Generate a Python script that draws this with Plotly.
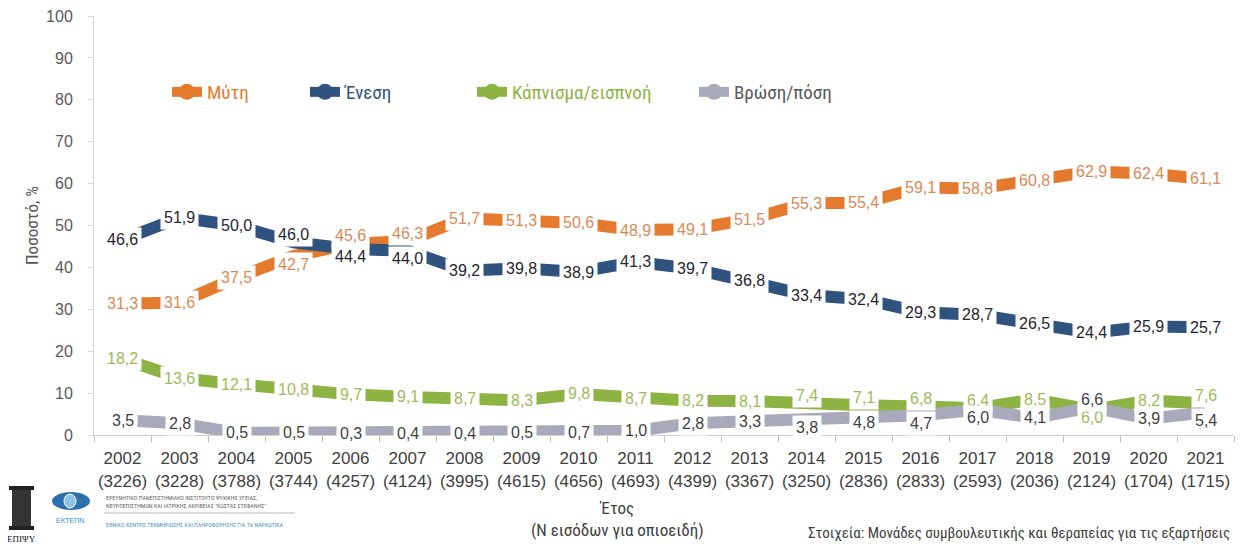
import plotly.graph_objects as go

years = [str(y) for y in range(2002, 2022)]
n_entries = [3226, 3228, 3788, 3744, 4257, 4124, 3995, 4615, 4656, 4693,
             4399, 3367, 3250, 2836, 2833, 2593, 2036, 2124, 1704, 1715]

myti = [31.3, 31.6, 37.5, 42.7, 45.6, 46.3, 51.7, 51.3, 50.6, 48.9,
        49.1, 51.5, 55.3, 55.4, 59.1, 58.8, 60.8, 62.9, 62.4, 61.1]
enesi = [46.6, 51.9, 50.0, 46.0, 44.4, 44.0, 39.2, 39.8, 38.9, 41.3,
         39.7, 36.8, 33.4, 32.4, 29.3, 28.7, 26.5, 24.4, 25.9, 25.7]
kapnisma = [18.2, 13.6, 12.1, 10.8, 9.7, 9.1, 8.7, 8.3, 9.8, 8.7,
            8.2, 8.1, 7.4, 7.1, 6.8, 6.4, 8.5, 6.0, 8.2, 7.6]
vrosi = [3.5, 2.8, 0.5, 0.5, 0.3, 0.4, 0.4, 0.5, 0.7, 1.0,
         2.8, 3.3, 3.8, 4.8, 4.7, 6.0, 4.1, 6.6, 3.9, 5.4]

series_names = ["Μύτη", "Ένεση", "Κάπνισμα/εισπνοή", "Βρώση/πόση"]
series_values = [myti, enesi, kapnisma, vrosi]
line_colors = ["#E47A2E", "#2F527E", "#8DB443", "#A8A9BA"]
label_colors = ["#D98A55", "#1F2630", "#9BBB59", "#3F3F3F"]
legend_text_colors = ["#E47A2E", "#2F527E", "#8DB443", "#595959"]

tick_text = [f"{y}<br>({n})" for y, n in zip(years, n_entries)]

NARROW = "Liberation Sans Narrow, Arial Narrow, Roboto Condensed, sans-serif"
REG = "Liberation Sans, Arial, sans-serif"

# the page body adds an 8px offset; figure sized to the visible window
OFF = 8
W, H = 1250 - OFF, 547 - OFF
# plot area in screen pixels: x 94..1234, y 16..435
L, R, T = 94 - OFF, 1250 - 1234, 16 - OFF
B = H - (435 - OFF)
PW, PH = W - L - R, H - T - B


def px_x(px):
    return (px - OFF - L) / PW


def px_y(py):
    return (H - B - (py - OFF)) / PH


fig = go.Figure()

xs = list(range(len(years)))  # category positions

for name, vals, lc in zip(series_names, series_values, line_colors):
    fig.add_trace(go.Scatter(x=xs, y=vals, mode="lines", name=name,
                             line=dict(color=lc, width=12), showlegend=False,
                             hoverinfo="y"))

# legend-only traces, one per legend box
legend_ids = ["legend", "legend2", "legend3", "legend4"]
for name, lc, tc, lid in zip(series_names, line_colors, legend_text_colors, legend_ids):
    fig.add_trace(go.Scatter(x=[None], y=[None], mode="lines+markers",
                             name=f"<span style='color:{tc}'>{name}</span>",
                             line=dict(color=lc, width=10),
                             marker=dict(color=lc, size=16, symbol="circle"),
                             legend=lid, showlegend=True))

# data labels (shift apart labels of close pairs)
pairs = [(0, 1), (2, 3)]
shifts = [[0] * len(years) for _ in series_values]
for a, b in pairs:
    for i in range(len(years)):
        va, vb = series_values[a][i], series_values[b][i]
        if abs(va - vb) < 4:
            hi, lo = (a, b) if va >= vb else (b, a)
            shifts[hi][i] = 8
            shifts[lo][i] = -8

annotations = []
for s, (vals, tc) in enumerate(zip(series_values, label_colors)):
    for i, v in enumerate(vals):
        annotations.append(dict(x=xs[i], y=v, xref="x", yref="y",
                                text=f"{v:.1f}".replace(".", ","),
                                showarrow=False, bgcolor="white", borderpad=3,
                                yshift=shifts[s][i],
                                font=dict(family=REG, size=16, color=tc)))

# axis title and source
annotations.append(dict(x=px_x(617), y=px_y(519), xref="paper", yref="paper",
                        text="Έτος<br>(Ν εισόδων για οπιοειδή)", showarrow=False,
                        xanchor="center", yanchor="middle", align="center",
                        font=dict(family=NARROW, size=17, color="#404040")))
annotations.append(dict(x=px_x(1232), y=px_y(533), xref="paper", yref="paper",
                        text="Στοιχεία: Μονάδες συμβουλευτικής και θεραπείας για τις εξαρτήσεις",
                        showarrow=False, xanchor="right", yanchor="middle",
                        font=dict(family=NARROW, size=15, color="#404040")))

# logo texts
annotations.append(dict(x=px_x(21), y=px_y(539), xref="paper", yref="paper",
                        text="ΕΠΙΨΥ", showarrow=False, xanchor="center", yanchor="middle",
                        font=dict(family="Liberation Serif, serif", size=9, color="#111111")))
annotations.append(dict(x=px_x(70), y=px_y(520), xref="paper", yref="paper",
                        text="ΕΚΤΕΠΝ", showarrow=False, xanchor="center", yanchor="middle",
                        font=dict(family=REG, size=7, color="#3A8CC8")))
annotations.append(dict(x=px_x(104), y=px_y(502), xref="paper", yref="paper",
                        text="ΕΡΕΥΝΗΤΙΚΟ ΠΑΝΕΠΙΣΤΗΜΙΑΚΟ ΙΝΣΤΙΤΟΥΤΟ ΨΥΧΙΚΗΣ ΥΓΕΙΑΣ,<br>"
                             "ΝΕΥΡΟΕΠΙΣΤΗΜΩΝ ΚΑΙ ΙΑΤΡΙΚΗΣ ΑΚΡΙΒΕΙΑΣ \"ΚΩΣΤΑΣ ΣΤΕΦΑΝΗΣ\"",
                        showarrow=False, xanchor="left", yanchor="middle", align="left",
                        font=dict(family=NARROW, size=6, color="#666666")))
annotations.append(dict(x=px_x(104), y=px_y(524), xref="paper", yref="paper",
                        text="ΕΘΝΙΚΟ ΚΕΝΤΡΟ ΤΕΚΜΗΡΙΩΣΗΣ ΚΑΙ ΠΛΗΡΟΦΟΡΗΣΗΣ ΓΙΑ ΤΑ ΝΑΡΚΩΤΙΚΑ",
                        showarrow=False, xanchor="left", yanchor="middle", align="left",
                        font=dict(family=NARROW, size=6, color="#4A90C8")))

shapes = [
    dict(type="line", xref="paper", yref="paper", x0=px_x(104), x1=px_x(295),
         y0=px_y(513), y1=px_y(513), line=dict(color="#BBBBBB", width=1)),
    # column logo
    dict(type="rect", xref="paper", yref="paper", x0=px_x(9), x1=px_x(34),
         y0=px_y(486), y1=px_y(490), fillcolor="#222222", line=dict(width=0)),
    dict(type="rect", xref="paper", yref="paper", x0=px_x(12), x1=px_x(31),
         y0=px_y(490), y1=px_y(526), fillcolor="#333333", line=dict(width=0)),
    dict(type="rect", xref="paper", yref="paper", x0=px_x(9), x1=px_x(34),
         y0=px_y(526), y1=px_y(530), fillcolor="#222222", line=dict(width=0)),
    # EKTEPN logo
    dict(type="circle", xref="paper", yref="paper", x0=px_x(52), x1=px_x(90),
         y0=px_y(492), y1=px_y(510), fillcolor="#2E6FAF", line=dict(width=0)),
    dict(type="circle", xref="paper", yref="paper", x0=px_x(64), x1=px_x(76),
         y0=px_y(494), y1=px_y(508), fillcolor="#8EC3EA", line=dict(color="white", width=1)),
]

legend_px = [167, 305, 472, 694]
legends = {}
for lid, lx in zip(legend_ids, legend_px):
    legends[lid] = dict(x=px_x(lx), y=px_y(92), xanchor="left", yanchor="middle",
                        orientation="h", bgcolor="rgba(0,0,0,0)",
                        font=dict(family=NARROW, size=19, color="#333333"))

fig.update_layout(
    width=W, height=H,
    margin=dict(l=L, r=R, t=T, b=B),
    plot_bgcolor="white", paper_bgcolor="white",
    annotations=annotations, shapes=shapes,
    **legends,
    xaxis=dict(tickmode="array", tickvals=xs, ticktext=tick_text,
               range=[-0.5, len(years) - 0.5], automargin=False,
               showline=True, linecolor="#D0D0D0", ticks="",
               linewidth=1, showgrid=False, zeroline=False,
               ticklabelstandoff=8, ticklabeloverflow="allow",
               tickfont=dict(family=REG, size=17, color="#404040"),
               fixedrange=True),
    xaxis2=dict(overlaying="x", matches="x", tickmode="array",
                tickvals=[i - 0.5 for i in range(len(years) + 1)],
                ticktext=[""] * (len(years) + 1), ticks="outside", ticklen=6,
                tickcolor="#BFBFBF", showgrid=False, zeroline=False,
                showline=False, side="bottom", fixedrange=True, automargin=False),
    yaxis=dict(range=[0, 100], tickmode="array", automargin=False,
               tickvals=list(range(0, 101, 10)),
               ticktext=[str(v) for v in range(0, 101, 10)],
               showgrid=False, zeroline=False, ticklabeloverflow="allow",
               showline=True, linecolor="#D9D9D9", ticks="outside", ticklen=5,
               tickcolor="#D9D9D9", ticklabelstandoff=12,
               tickfont=dict(family=REG, size=16, color="#595959"),
               title=dict(text="Ποσοστό, %", standoff=3,
                          font=dict(family=NARROW, size=17, color="#595959")),
               fixedrange=True),
)

# invisible trace to activate the boundary-tick axis
fig.add_trace(go.Scatter(x=[None], y=[None], xaxis="x2", showlegend=False,
                         hoverinfo="skip"))

fig.write_html("out.html")
